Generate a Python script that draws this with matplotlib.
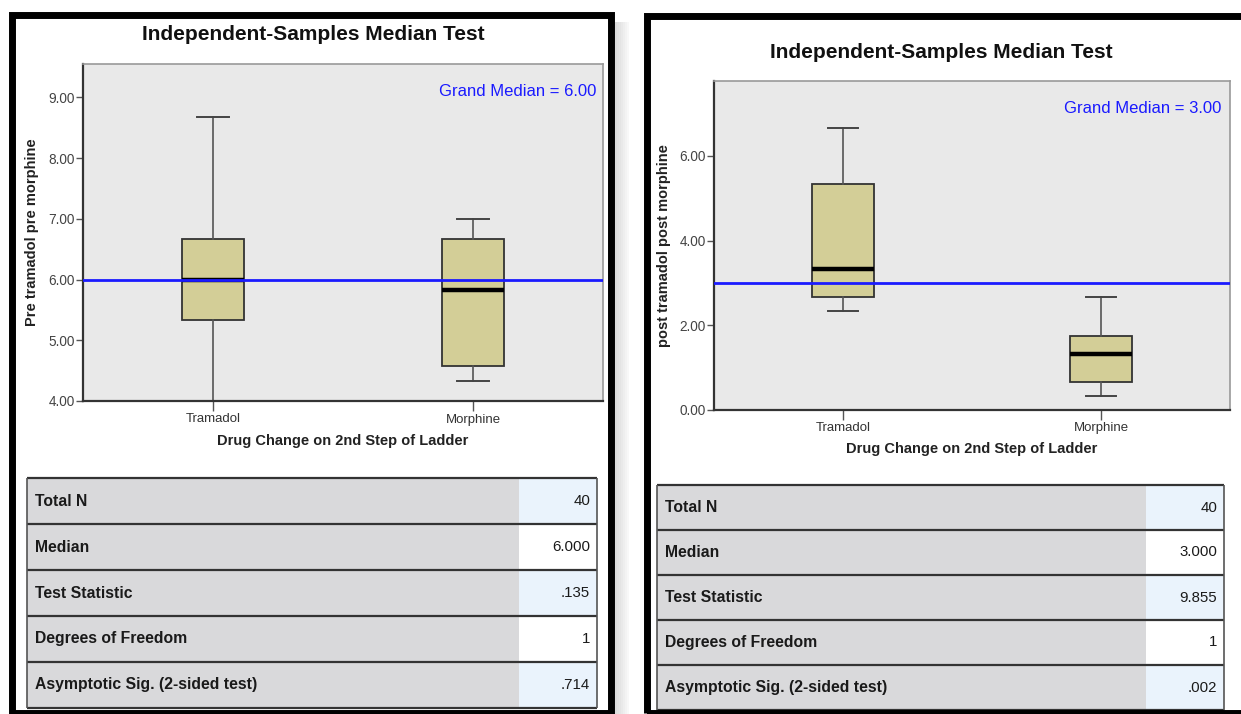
import matplotlib
matplotlib.use("Agg")
import matplotlib.pyplot as plt
from matplotlib.patches import Rectangle

plt.rcParams["font.family"] = ["Liberation Sans", "DejaVu Sans"]

# ---- data ----
groups = ["Tramadol", "Morphine"]

# pre: whisker low, q1, median, q3, whisker high
pre_whislo = [4.00, 4.33]
pre_q1 = [5.33, 4.58]
pre_med = [6.00, 5.83]
pre_q3 = [6.67, 6.67]
pre_whishi = [8.67, 7.00]
pre_grand_median = 6.00

post_whislo = [2.33, 0.33]
post_q1 = [2.67, 0.67]
post_med = [3.33, 1.33]
post_q3 = [5.33, 1.75]
post_whishi = [6.67, 2.67]
post_grand_median = 3.00

table_labels = ["Total N", "Median", "Test Statistic", "Degrees of Freedom",
                "Asymptotic Sig. (2-sided test)"]
pre_table_values = ["40", "6.000", ".135", "1", ".714"]
post_table_values = ["40", "3.000", "9.855", "1", ".002"]

W, H = 1241, 714
BOX_FILL = "#d3ce97"
PLOT_BG = "#e9e9e9"
LABEL_GRAY = "#d9d9db"
VALUE_BLUE = "#eaf3fc"
BLUE = "#1a1aff"


def px_axes(fig, x0, y0, x1, y1):
    return fig.add_axes([x0 / W, 1 - y1 / H, (x1 - x0) / W, (y1 - y0) / H])


def boxplot_panel(fig, box, whislo, q1, med, q3, whishi, grand, ylim, yticks,
                  ylabel, gm_pos, lab_coords):
    ax = px_axes(fig, *box)
    ax.set_facecolor(PLOT_BG)
    stats = []
    for i, g in enumerate(groups):
        stats.append(dict(label=g, whislo=whislo[i], q1=q1[i], med=med[i],
                          q3=q3[i], whishi=whishi[i], fliers=[]))
    ax.bxp(stats, positions=[0, 1], widths=0.24, capwidths=0.12,
           patch_artist=True, showfliers=False,
           boxprops=dict(facecolor=BOX_FILL, edgecolor="#333333", linewidth=1.3),
           medianprops=dict(color="black", linewidth=3.2),
           whiskerprops=dict(color="#555555", linewidth=1.2),
           capprops=dict(color="#444444", linewidth=1.4))
    ax.axhline(grand, color=BLUE, linewidth=2, zorder=5)
    ax.set_xlim(-0.5, 1.5)
    ax.set_ylim(*ylim)
    ax.set_yticks(yticks)
    ax.set_yticklabels([f"{t:.2f}" for t in yticks])
    ax.tick_params(axis="y", length=5, width=1, color="#555555",
                   labelcolor="#444444", labelsize=9.8, pad=1)
    ax.tick_params(axis="x", length=7, width=1, color="#555555",
                   labelcolor="#333333", labelsize=9.5, pad=2)
    for s in ["left", "bottom"]:
        ax.spines[s].set_color("#333333")
        ax.spines[s].set_linewidth(1.6)
    for s in ["top", "right"]:
        ax.spines[s].set_color("#999999")
        ax.spines[s].set_linewidth(1.2)
    ax.set_ylabel(ylabel, fontsize=10.5, fontweight="bold", color="#222222")
    ax.set_xlabel("Drug Change on 2nd Step of Ladder", fontsize=10.5,
                  fontweight="bold", color="#222222")
    ax.yaxis.set_label_coords(lab_coords[0], 0.5)
    ax.xaxis.set_label_coords(0.5, lab_coords[1])
    ax.text(gm_pos[0], gm_pos[1], f"Grand Median = {grand:.2f}", color=BLUE,
            fontsize=12, ha="right", va="center", transform=ax.transAxes)
    return ax


def draw_table(fig, box, labels, values):
    ax = px_axes(fig, *box)
    n = len(labels)
    ax.set_xlim(0, 1)
    ax.set_ylim(n, 0)
    ax.axis("off")
    split = 0.863
    for i, (lab, val) in enumerate(zip(labels, values)):
        ax.add_patch(Rectangle((0, i), split, 1, facecolor=LABEL_GRAY,
                               edgecolor="none", clip_on=False))
        ax.add_patch(Rectangle((split, i), 1 - split, 1,
                               facecolor=VALUE_BLUE if i % 2 == 0 else "white",
                               edgecolor="none", clip_on=False))
        ax.text(0.014, i + 0.5, lab, fontsize=11.3, fontweight="bold",
                color="#1a1a1a", ha="left", va="center")
        ax.text(0.988, i + 0.5, val, fontsize=10.8, color="#1a1a1a",
                ha="right", va="center")
    ax.hlines(range(n + 1), 0, 1, color="#333333", linewidth=1.6, clip_on=False)
    ax.vlines([0, 1], 0, n, color="#555555", linewidth=1.2, clip_on=False)
    return ax


fig = plt.figure(figsize=(W / 100, H / 100), dpi=100)

# panel drop shadow (left panel)
for k in range(7):
    fig.add_artist(Rectangle(((615 + 2 * k) / W, 0), 2 / W, 1 - 22 / H,
                             transform=fig.transFigure, facecolor="#888888",
                             alpha=0.30 - 0.04 * k, edgecolor="none"))

# panel frames
fig.add_artist(Rectangle((11.5 / W, 1 - 713 / H), (611 - 11.5) / W, (713 - 15) / H,
                         transform=fig.transFigure, fill=False,
                         edgecolor="black", linewidth=5.0))
fig.add_artist(Rectangle((646.5 / W, 1 - 712.5 / H), (1260 - 646.5) / W,
                         (712.5 - 15.5) / H, transform=fig.transFigure,
                         fill=False, edgecolor="black", linewidth=5.0))

# titles
fig.text(313 / W, 1 - 35 / H, "Independent-Samples Median Test", fontsize=15,
         fontweight="bold", ha="center", va="center", color="#111111")
fig.text(941 / W, 1 - 53 / H, "Independent-Samples Median Test", fontsize=15,
         fontweight="bold", ha="center", va="center", color="#111111")

boxplot_panel(fig, (83, 64, 603, 401), pre_whislo, pre_q1, pre_med, pre_q3,
              pre_whishi, pre_grand_median, (4.0, 9.55),
              [4.0, 5.0, 6.0, 7.0, 8.0, 9.0], "Pre tramadol pre morphine",
              (0.988, 0.917), (-0.085, -0.098))
boxplot_panel(fig, (714, 81, 1230, 410), post_whislo, post_q1, post_med, post_q3,
              post_whishi, post_grand_median, (0.0, 7.77),
              [0.0, 2.0, 4.0, 6.0], "post tramadol post morphine",
              (0.984, 0.915), (-0.083, -0.097))

draw_table(fig, (27, 478, 597, 708), table_labels, pre_table_values)
draw_table(fig, (657, 485, 1224, 710), table_labels, post_table_values)

fig.savefig("out.png", dpi=100)
